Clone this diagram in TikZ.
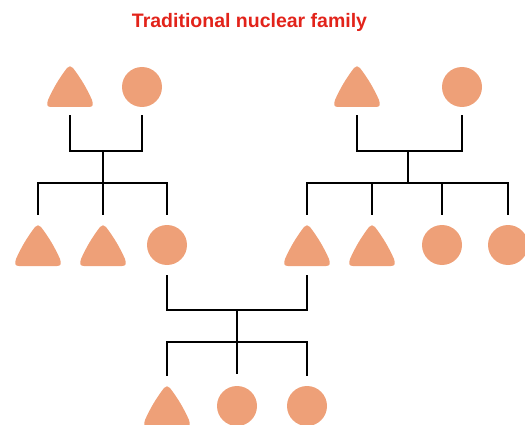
\documentclass[tikz,border=0pt]{standalone}
\usepackage{fontspec}
\setmainfont{Liberation Sans}
\definecolor{shapefill}{HTML}{EEA078}
\definecolor{titlered}{HTML}{E2231A}
\tikzset{
  male/.style={shape=rectangle, minimum width=50pt, minimum height=46pt, inner sep=0pt,
    path picture={\fill[shapefill, shift={(path picture bounding box.center)}]
      (0,21) -- (19,21) .. controls (23,21) and (23.5,18.9) .. (22,14)
      .. controls (17,2.6) and (10.6,-8.1) .. (3,-18)
      .. controls (1.3,-20.3) and (-1.3,-20.3) .. (-3,-18)
      .. controls (-10.6,-8.1) and (-17,2.6) .. (-22,14)
      .. controls (-23.5,18.9) and (-23,21) .. (-19,21) -- cycle;}},
  female/.style={shape=circle, fill=shapefill, minimum size=40pt, inner sep=0pt},
  link/.style={draw=black, line width=1.7pt, line cap=rect}
}
\begin{document}
\begin{tikzpicture}[x=1pt, y=-1pt]
\useasboundingbox (0,0) rectangle (525,425);
\node[font=\bfseries\fontsize{19.5}{22}\selectfont, text=titlered, anchor=base] (title) at (249.5,28) {Traditional nuclear family};
% generation 1
\node[male] (gA) at (70,86) {};
\node[female] (gB) at (142,87) {};
\node[male] (gC) at (357,86) {};
\node[female] (gD) at (462,87) {};
% generation 2
\node[male] (c1) at (38,245) {};
\node[male] (c2) at (103,245) {};
\node[female] (c3) at (167,245) {};
\node[male] (d1) at (307,245) {};
\node[male] (d2) at (372,245) {};
\node[female] (d3) at (442,245) {};
\node[female] (d4) at (508,245) {};
% generation 3
\node[male] (e1) at (167,406) {};
\node[female] (e2) at (237,406) {};
\node[female] (e3) at (307,406) {};
% junctions
\coordinate (m1) at (103,151);
\coordinate (s1) at (103,183);
\coordinate (m2) at (408,151);
\coordinate (s2) at (408,183);
\coordinate (m3) at (237,310);
\coordinate (s3) at (237,342);
% left couple
\draw[link] (70,116) |- (m1) -| (142,116);
\draw[link] (m1) -- (s1);
\draw[link] (38,214) |- (s1) -| (167,214);
\draw[link] (s1) -- (103,214);
% right couple
\draw[link] (357,116) |- (m2) -| (462,116);
\draw[link] (m2) -- (s2);
\draw[link] (307,214) |- (s2) -| (508,214);
\draw[link] (372,183) -- (372,214);
\draw[link] (442,183) -- (442,214);
% middle couple
\draw[link] (167,276) |- (m3) -| (307,276);
\draw[link] (m3) -- (s3);
\draw[link] (167,375) |- (s3) -| (307,375);
\draw[link] (s3) -- (237,373);
\end{tikzpicture}
\end{document}
